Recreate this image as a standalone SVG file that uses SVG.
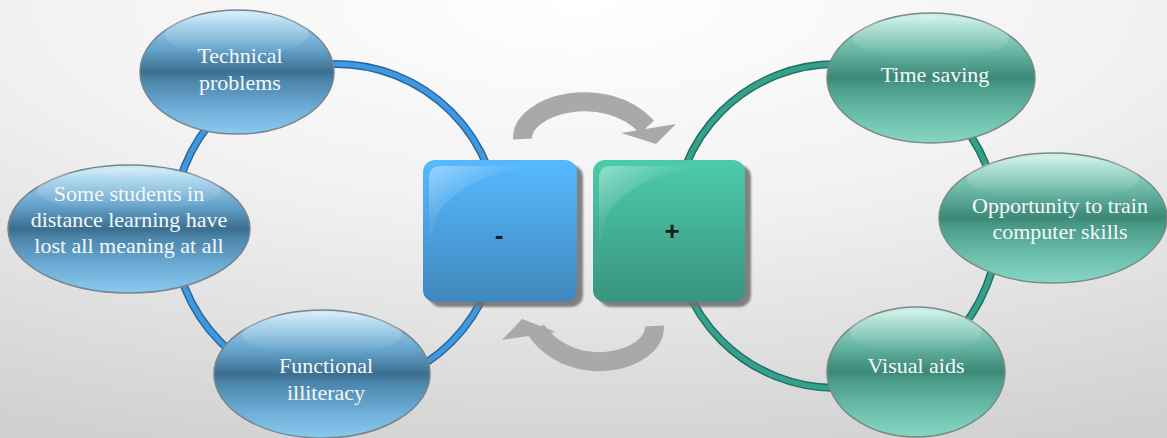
<svg xmlns="http://www.w3.org/2000/svg" width="1167" height="438" viewBox="0 0 1167 438">
<defs>
  <radialGradient id="bg" cx="0.5" cy="0" r="1.1" fx="0.5" fy="0">
    <stop offset="0" stop-color="#ffffff"/>
    <stop offset="0.45" stop-color="#f1f1f1"/>
    <stop offset="1" stop-color="#cfcfcf"/>
  </radialGradient>
  <linearGradient id="gBlueEll" x1="0" y1="0" x2="0" y2="1">
    <stop offset="0" stop-color="#d2ecf9"/>
    <stop offset="0.1" stop-color="#9ccfec"/>
    <stop offset="0.32" stop-color="#64a2c9"/>
    <stop offset="0.5" stop-color="#3b6e8f"/>
    <stop offset="0.56" stop-color="#4a83a8"/>
    <stop offset="0.8" stop-color="#6eaed8"/>
    <stop offset="1" stop-color="#8acaee"/>
  </linearGradient>
  <linearGradient id="gTealEll" x1="0" y1="0" x2="0" y2="1">
    <stop offset="0" stop-color="#d2f2ec"/>
    <stop offset="0.1" stop-color="#9bdacb"/>
    <stop offset="0.32" stop-color="#62b09f"/>
    <stop offset="0.5" stop-color="#3c8776"/>
    <stop offset="0.56" stop-color="#4a9a88"/>
    <stop offset="0.8" stop-color="#6cc1ad"/>
    <stop offset="1" stop-color="#88d6c4"/>
  </linearGradient>
  <linearGradient id="gBlueSq" x1="0" y1="0" x2="0" y2="1">
    <stop offset="0" stop-color="#56b9ff"/>
    <stop offset="1" stop-color="#3f86bb"/>
  </linearGradient>
  <linearGradient id="gTealSq" x1="0" y1="0" x2="0" y2="1">
    <stop offset="0" stop-color="#4ccbaa"/>
    <stop offset="1" stop-color="#39947e"/>
  </linearGradient>
  <linearGradient id="gloss" x1="0" y1="0" x2="1" y2="1">
    <stop offset="0" stop-color="#ffffff" stop-opacity="0.4"/>
    <stop offset="0.35" stop-color="#ffffff" stop-opacity="0.06"/>
    <stop offset="1" stop-color="#ffffff" stop-opacity="0"/>
  </linearGradient>
  <linearGradient id="ellHi" x1="0" y1="0" x2="0" y2="1">
    <stop offset="0" stop-color="#ffffff" stop-opacity="0.3"/>
    <stop offset="1" stop-color="#ffffff" stop-opacity="0"/>
  </linearGradient>
  <filter id="sh" x="-10%" y="-10%" width="120%" height="120%">
    <feGaussianBlur stdDeviation="1.2"/>
  </filter>
</defs>
<style>
  .lbl { font-family: "Liberation Serif", "Times New Roman", serif; font-size: 22px; fill: #f4f8fa; text-anchor: middle; }
  .sym { font-family: "Liberation Sans", Arial, sans-serif; font-size: 26px; font-weight: bold; fill: #1c1c1c; text-anchor: middle; }
  .ringDarkB { fill: none; stroke: #2a679a; stroke-width: 8; }
  .ringLightB { fill: none; stroke: #3f98e0; stroke-width: 5; }
  .ringDarkT { fill: none; stroke: #1f7163; stroke-width: 8; }
  .ringLightT { fill: none; stroke: #35a08b; stroke-width: 5; }
  .ellB { fill: url(#gBlueEll); stroke: #7a848c; stroke-width: 1.5; }
  .ellT { fill: url(#gTealEll); stroke: #7a8a86; stroke-width: 1.5; }
  .hi { fill: url(#ellHi); }
  .arrowBody { fill: none; stroke: #a9a9a9; stroke-width: 19; }
  .arrowHead { fill: #a9a9a9; }
  .sqShadow { fill: #6e6e6e; opacity: 0.85; }
</style>
<rect x="0" y="0" width="1167" height="438" fill="url(#bg)"/>

<g id="connectors">
  <circle class="ringDarkB" cx="336" cy="227" r="163"/>
  <circle class="ringLightB" cx="336" cy="227" r="163"/>
  <circle class="ringDarkT" cx="836" cy="226" r="162"/>
  <circle class="ringLightT" cx="836" cy="226" r="162"/>
  <path class="arrowBody" d="M522.5,139 C521,104 606,82 647,127"/>
  <polygon class="arrowHead" points="621,133 676,124 656,144"/>
  <path class="arrowBody" d="M654.5,326 C656,362 572,382 536,330"/>
  <polygon class="arrowHead" points="502,340 522,319 556,332"/>
</g>

<g id="node-minus">
  <rect class="sqShadow" x="429" y="165" width="154" height="142" rx="12" filter="url(#sh)"/>
  <rect x="423" y="160" width="154" height="142" rx="12" fill="url(#gBlueSq)"/>
  <path d="M429,250 L429,178 Q429,166 441,166 L540,166 Q470,172 440,210 Q432,225 429,250 Z" fill="url(#gloss)"/>
  <text class="sym" x="499" y="244">-</text>
</g>

<g id="node-plus">
  <rect class="sqShadow" x="599" y="165" width="152" height="142" rx="12" filter="url(#sh)"/>
  <rect x="593" y="160" width="152" height="142" rx="12" fill="url(#gTealSq)"/>
  <path d="M599,250 L599,178 Q599,166 611,166 L708,166 Q640,172 610,210 Q602,225 599,250 Z" fill="url(#gloss)"/>
  <text class="sym" x="672" y="240">+</text>
</g>

<g id="node-technical">
  <ellipse class="ellB" cx="237" cy="72" rx="97" ry="62"/>
  <ellipse class="hi" cx="237" cy="34" rx="72" ry="22"/>
  <text class="lbl" x="240" y="63">Technical</text>
  <text class="lbl" x="240" y="90">problems</text>
</g>

<g id="node-students">
  <ellipse class="ellB" cx="129" cy="229" rx="121" ry="64"/>
  <ellipse class="hi" cx="129" cy="190" rx="92" ry="22"/>
  <text class="lbl" x="129" y="201">Some students in</text>
  <text class="lbl" x="129" y="227">distance learning have</text>
  <text class="lbl" x="129" y="253">lost all meaning at all</text>
</g>

<g id="node-functional">
  <ellipse class="ellB" cx="322" cy="374" rx="108" ry="64"/>
  <ellipse class="hi" cx="322" cy="334" rx="80" ry="22"/>
  <text class="lbl" x="326" y="373">Functional</text>
  <text class="lbl" x="326" y="400">illiteracy</text>
</g>

<g id="node-time">
  <ellipse class="ellT" cx="931" cy="78" rx="104" ry="65"/>
  <ellipse class="hi" cx="931" cy="38" rx="78" ry="22"/>
  <text class="lbl" x="935" y="82">Time saving</text>
</g>

<g id="node-opportunity">
  <ellipse class="ellT" cx="1053" cy="218" rx="114" ry="65"/>
  <ellipse class="hi" cx="1053" cy="178" rx="86" ry="22"/>
  <text class="lbl" x="1060" y="213">Opportunity to train</text>
  <text class="lbl" x="1060" y="239">computer skills</text>
</g>

<g id="node-visual">
  <ellipse class="ellT" cx="916" cy="372" rx="89" ry="65"/>
  <ellipse class="hi" cx="916" cy="332" rx="66" ry="22"/>
  <text class="lbl" x="916" y="373">Visual aids</text>
</g>
</svg>
